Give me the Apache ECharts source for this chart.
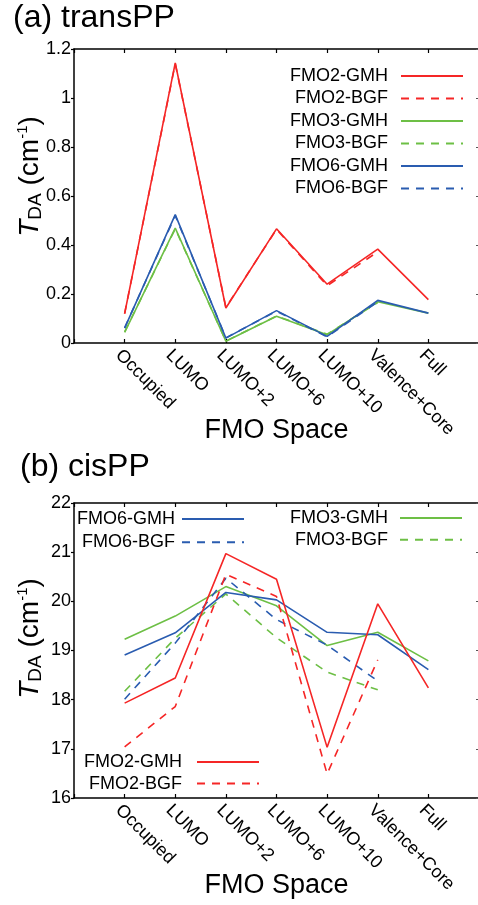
<!DOCTYPE html>
<html><head><meta charset="utf-8">
<script src="https://cdn.jsdelivr.net/npm/echarts@6/dist/echarts.min.js"></script>
<style>html,body{margin:0;padding:0;background:#fff}#c{width:478px;height:905px}</style>
</head><body><div id="c"></div>
<script>
// ---- data ----
const categories = ['Occupied', 'LUMO', 'LUMO+2', 'LUMO+6', 'LUMO+10', 'Valence+Core', 'Full'];

// (a) transPP
const transFMO2GMH = [0.120, 1.143, 0.143, 0.466, 0.240, 0.383, 0.177];
const transFMO2BGF = [0.120, 1.140, 0.145, 0.464, 0.234, 0.372, null];
const transFMO3GMH = [0.043, 0.469, 0.007, 0.109, 0.034, 0.168, 0.122];
const transFMO3BGF = [0.045, 0.466, 0.008, 0.110, 0.036, 0.165, null];
const transFMO6GMH = [0.061, 0.524, 0.020, 0.132, 0.027, 0.174, 0.122];
const transFMO6BGF = [0.062, 0.520, 0.021, 0.130, 0.025, 0.168, null];

// (b) cisPP
const cisFMO2GMH = [17.93, 18.44, 20.97, 20.45, 17.03, 19.95, 18.24];
const cisFMO2BGF = [17.04, 17.86, 20.55, 20.10, 16.49, 18.81, null];
const cisFMO3GMH = [19.23, 19.70, 20.30, 19.91, 19.10, 19.37, 18.79];
const cisFMO3BGF = [18.17, 19.25, 20.15, 19.26, 18.56, 18.20, null];
const cisFMO6GMH = [18.91, 19.36, 20.18, 20.03, 19.37, 19.32, 18.61];
const cisFMO6BGF = [18.01, 19.15, 20.47, 19.63, 19.11, 18.38, null];

const transRange = {min: 0, max: 1.2, step: 0.2};
const cisRange = {min: 16, max: 22, step: 1};

// ---- style ----
const FONT = 'Liberation Sans, Arial, Helvetica, sans-serif';
const RED = '#f52626', GREEN = '#6dbf45', BLUE = '#2a5cb0';
const DASH = [8, 7];

function mk(name, vals, gi, color, dashed) {
  return {
    type: 'line', name: name,
    xAxisIndex: gi * 2, yAxisIndex: gi * 2,
    data: vals.map((v, i) => [i, v]),
    symbol: 'none', showSymbol: false, connectNulls: false,
    lineStyle: {color: color, width: 1.6, type: dashed ? DASH : 'solid'},
    itemStyle: {color: color},
    emphasis: {disabled: true},
    animation: false
  };
}

function xAxes(gi, nameGap) {
  return [{
    type: 'value', gridIndex: gi, position: 'bottom', min: -1, max: 7, interval: 1,
    axisLine: {show: true, onZero: false, lineStyle: {color: '#000', width: 1.5}},
    axisTick: {show: true, inside: true, length: 4, lineStyle: {color: '#000', width: 1.2}},
    axisLabel: {
      rotate: -45, align: 'left', verticalAlign: 'top', margin: 3,
      fontSize: 18, color: '#000', fontFamily: FONT,
      showMinLabel: true, showMaxLabel: true, hideOverlap: false,
      formatter: v => (categories[v] !== undefined ? categories[v] : '')
    },
    splitLine: {show: false},
    name: 'FMO Space', nameLocation: 'middle', nameGap: nameGap, nameMoveOverlap: false,
    nameTextStyle: {fontSize: 27, lineHeight: 27, color: '#000', fontFamily: FONT}
  }, {
    type: 'value', gridIndex: gi, position: 'top', min: -1, max: 7, interval: 1,
    axisLine: {show: true, onZero: false, lineStyle: {color: '#000', width: 1.5}},
    axisTick: {show: true, inside: true, length: 4, lineStyle: {color: '#000', width: 1.2}},
    axisLabel: {show: false}, splitLine: {show: false}
  }];
}

function yAxes(gi, rng, shift) {
  return [{
    type: 'value', gridIndex: gi, position: 'left', min: rng.min, max: rng.max, interval: rng.step,
    axisLine: {show: true, onZero: false, lineStyle: {color: '#000', width: 1.5}},
    axisTick: {show: true, inside: false, length: 3, lineStyle: {color: '#000', width: 1.2}},
    axisLabel: {fontSize: 18, color: '#000', fontFamily: FONT, margin: 3},
    splitLine: {show: false},
    name: '{i|T}{sub|DA} (cm{sup|-1})', nameLocation: 'middle', nameGap: 29, nameRotate: 90,
    nameMoveOverlap: false,
    nameTextStyle: {
      fontSize: 28, color: '#000', fontFamily: FONT, lineHeight: 30,
      padding: [0, 0, 0, shift],
      rich: {
        i: {fontSize: 28, fontStyle: 'italic', fontFamily: FONT, color: '#000', lineHeight: 30},
        sub: {fontSize: 19, fontFamily: FONT, color: '#000', verticalAlign: 'bottom', lineHeight: 22},
        sup: {fontSize: 15, fontFamily: FONT, color: '#000', verticalAlign: 'top', lineHeight: 15}
      }
    }
  }, {
    type: 'value', gridIndex: gi, position: 'right', min: rng.min, max: rng.max, interval: rng.step,
    axisLine: {show: true, onZero: false, lineStyle: {color: '#000', width: 1.5}},
    axisTick: {show: true, inside: true, length: 3, lineStyle: {color: '#555', width: 1.2}},
    axisLabel: {show: false}, splitLine: {show: false}
  }];
}

function legend(names, right, top, gap, pad) {
  return {
    data: names, orient: 'vertical', align: 'right', right: right, top: top,
    padding: 0, itemGap: gap, itemWidth: 62, itemHeight: 2, selectedMode: false,
    itemStyle: {opacity: 0, borderWidth: 0},
    textStyle: {fontSize: 18, color: '#000', fontFamily: FONT, lineHeight: 18, padding: [0, pad, 0, 0]}
  };
}

const chart = echarts.init(document.getElementById('c'), null, {renderer: 'canvas'});
chart.setOption({
  backgroundColor: '#fff',
  animation: false,
  title: [
    {text: '(a) transPP', left: 13, top: 2, padding: 0,
     textStyle: {fontSize: 32, fontWeight: 'normal', color: '#000', fontFamily: FONT}},
    {text: '(b) cisPP', left: 20, top: 451, padding: 0,
     textStyle: {fontSize: 32, fontWeight: 'normal', color: '#000', fontFamily: FONT}}
  ],
  grid: [
    {left: 74, right: -1, top: 49, height: 294, outerBoundsMode: 'none', containLabel: false},
    {left: 74, right: -1, top: 503, height: 295, outerBoundsMode: 'none', containLabel: false}
  ],
  xAxis: [...xAxes(0, 74), ...xAxes(1, 74)],
  yAxis: [...yAxes(0, transRange, 39), ...yAxes(1, cisRange, 24)],
  legend: [
    legend(['FMO2-GMH', 'FMO2-BGF', 'FMO3-GMH', 'FMO3-BGF', 'FMO6-GMH', 'FMO6-BGF'], 14, 67, 4.5, 8),
    legend(['FMO6-GMH', 'FMO6-BGF'], 233, 510, 5.3, 2),
    legend(['FMO3-GMH', 'FMO3-BGF'], 15, 509, 3.7, 7),
    legend(['FMO2-GMH', 'FMO2-BGF'], 218, 753, 3.6, 10)
  ],
  series: [
    mk('FMO2-GMH', transFMO2GMH, 0, RED, false),
    mk('FMO2-BGF', transFMO2BGF, 0, RED, true),
    mk('FMO3-GMH', transFMO3GMH, 0, GREEN, false),
    mk('FMO3-BGF', transFMO3BGF, 0, GREEN, true),
    mk('FMO6-GMH', transFMO6GMH, 0, BLUE, false),
    mk('FMO6-BGF', transFMO6BGF, 0, BLUE, true),
    mk('FMO3-GMH', cisFMO3GMH, 1, GREEN, false),
    mk('FMO3-BGF', cisFMO3BGF, 1, GREEN, true),
    mk('FMO6-GMH', cisFMO6GMH, 1, BLUE, false),
    mk('FMO6-BGF', cisFMO6BGF, 1, BLUE, true),
    mk('FMO2-GMH', cisFMO2GMH, 1, RED, false),
    mk('FMO2-BGF', cisFMO2BGF, 1, RED, true)
  ]
});
</script></body></html>
